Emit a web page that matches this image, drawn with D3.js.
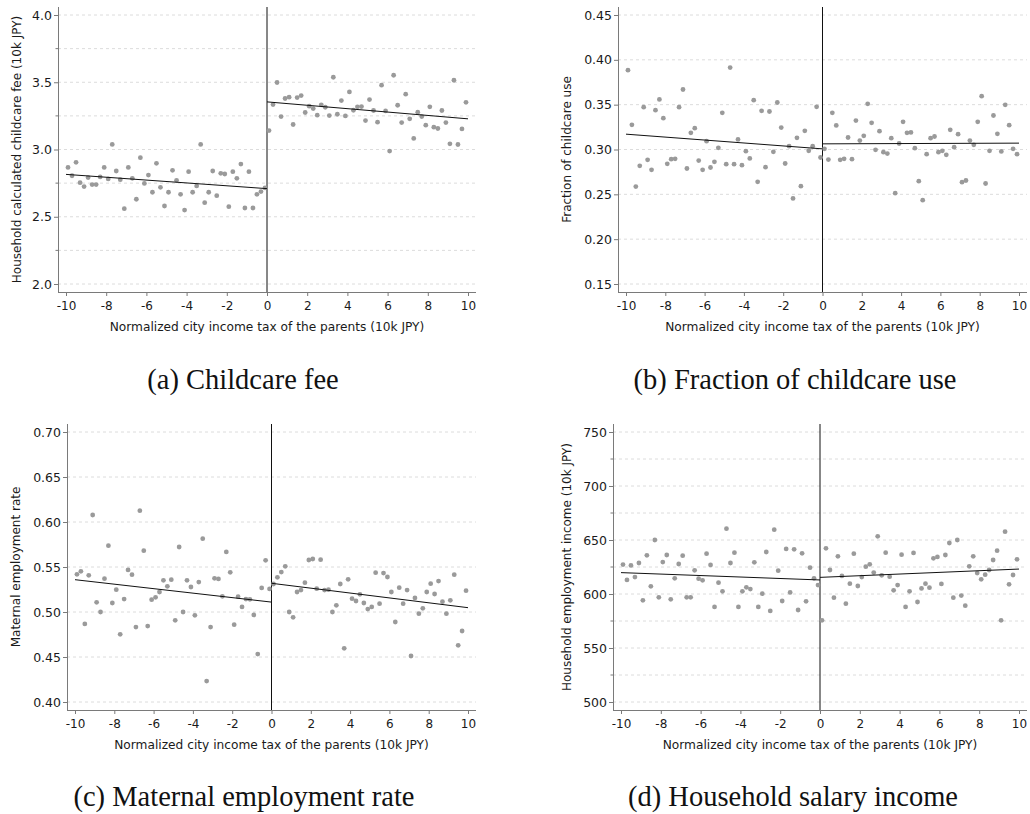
<!DOCTYPE html>
<html>
<head>
<meta charset="utf-8">
<script src="https://cdn.jsdelivr.net/npm/d3@7"></script>
<style>
  html, body { margin: 0; padding: 0; background: #fff; }
  svg { display: block; }
</style>
</head>
<body>
<svg id="chart" width="1030" height="814"></svg>
<script>
// ---------- DATA ----------
const xLeft = [-9.9,-9.7,-9.5,-9.3,-9.1,-8.9,-8.7,-8.5,-8.3,-8.1,-7.9,-7.7,-7.5,-7.3,-7.1,-6.9,-6.7,-6.5,-6.3,-6.1,
  -5.9,-5.7,-5.5,-5.3,-5.1,-4.9,-4.7,-4.5,-4.3,-4.1,-3.9,-3.7,-3.5,-3.3,-3.1,-2.9,-2.7,-2.5,-2.3,-2.1,
  -1.9,-1.7,-1.5,-1.3,-1.1,-0.9,-0.7,-0.5,-0.3,-0.1];
const xRight = [0.1,0.3,0.5,0.7,0.9,1.1,1.3,1.5,1.7,1.9,2.1,2.3,2.5,2.7,2.9,3.1,3.3,3.5,3.7,3.9,
  4.1,4.3,4.5,4.7,4.9,5.1,5.3,5.5,5.7,5.9,6.1,6.3,6.5,6.7,6.9,7.1,7.3,7.5,7.7,7.9,
  8.1,8.3,8.5,8.7,8.9,9.1,9.3,9.5,9.7,9.9];
const xTicks = [-10,-8,-6,-4,-2,0,2,4,6,8,10];

// (a) Childcare fee
const feeLeft = [2.867,2.805,2.905,2.753,2.724,2.791,2.739,2.739,2.796,2.867,
  2.781,3.038,2.840,2.776,2.560,2.867,2.786,2.630,2.939,2.748,
  2.810,2.682,2.897,2.719,2.580,2.682,2.845,2.771,2.667,2.550,
  2.835,2.682,2.729,3.038,2.605,2.682,2.840,2.657,2.823,2.818,
  2.575,2.835,2.786,2.892,2.565,2.835,2.565,2.667,2.687,2.714];
const feeRight = [3.141,3.334,3.498,3.245,3.379,3.389,3.186,3.386,3.401,3.275,
  3.322,3.304,3.255,3.332,3.314,3.252,3.537,3.262,3.364,3.250,
  3.428,3.292,3.317,3.319,3.215,3.371,3.290,3.203,3.478,3.287,
  2.988,3.552,3.329,3.200,3.411,3.228,3.082,3.277,3.245,3.181,
  3.317,3.166,3.156,3.290,3.200,3.042,3.515,3.037,3.153,3.351];
const feeFitLeft = [2.815, 2.709];
const feeFitRight = [3.354, 3.228];
const feeTicks = [2.0,2.5,3.0,3.5,4.0];
const feeMinor = [2.25,2.75,3.25,3.75];

// (b) Fraction of childcare use
const useLeft = [0.3885,0.3275,0.2587,0.2818,0.3472,0.2885,0.2773,0.3439,0.3558,0.3349,
  0.2840,0.2892,0.2896,0.3472,0.3669,0.2788,0.3186,0.3238,0.2877,0.2773,
  0.3093,0.2799,0.2862,0.3019,0.3409,0.2836,0.3914,0.2836,0.3112,0.2825,
  0.2981,0.2900,0.3550,0.2639,0.3431,0.2803,0.3424,0.2974,0.3524,0.3245,
  0.2844,0.3037,0.2454,0.3130,0.2591,0.3208,0.2985,0.3037,0.3476,0.2911];
const useRight = [0.3007,0.2888,0.3409,0.3268,0.2885,0.2896,0.3134,0.2892,0.3323,0.3100,
  0.3152,0.3509,0.3297,0.2996,0.3204,0.2970,0.2955,0.3126,0.2513,0.3067,
  0.3309,0.3186,0.3190,0.3015,0.2647,0.2435,0.2948,0.3126,0.3145,0.2970,
  0.2985,0.2941,0.3219,0.3026,0.3171,0.2636,0.2654,0.3100,0.3052,0.3309,
  0.3595,0.2621,0.2985,0.3379,0.3175,0.2978,0.3498,0.3271,0.3007,0.2948];
const useFitLeft = [0.3171, 0.3007];
const useFitRight = [0.3063, 0.3071];
const useTicks = [0.15,0.20,0.25,0.30,0.35,0.40,0.45];

// (c) Maternal employment rate
const empLeft = [0.5419,0.5452,0.4867,0.5407,0.6078,0.5107,0.5000,0.5370,0.5737,0.5100,
  0.5248,0.4752,0.5144,0.5467,0.5415,0.4833,0.6126,0.5681,0.4844,0.5137,
  0.5163,0.5222,0.5352,0.5285,0.5359,0.4907,0.5722,0.5000,0.5352,0.5278,
  0.4963,0.5333,0.5815,0.4233,0.4833,0.5374,0.5367,0.5174,0.5667,0.5441,
  0.4859,0.5170,0.5056,0.5144,0.5141,0.4967,0.4533,0.5267,0.5574,0.5256];
const empRight = [0.5311,0.5385,0.5444,0.5507,0.5000,0.4941,0.5222,0.5244,0.5326,0.5578,
  0.5589,0.5259,0.5581,0.5244,0.5248,0.5000,0.5074,0.5311,0.4596,0.5363,
  0.5148,0.5122,0.5196,0.5100,0.5033,0.5056,0.5437,0.5093,0.5433,0.5389,
  0.5222,0.4889,0.5270,0.5093,0.5244,0.4511,0.5156,0.4981,0.5041,0.5222,
  0.5315,0.5200,0.5344,0.5115,0.4981,0.5130,0.5415,0.4630,0.4789,0.5237];
const empFitLeft = [0.5359, 0.5110];
const empFitRight = [0.5319, 0.5048];
const empTicks = [0.40,0.45,0.50,0.55,0.60,0.65,0.70];

// (d) Household salary income
const incLeft = [627.2,613.0,626.5,615.7,628.7,594.1,635.8,607.1,650.0,596.9,
  629.6,636.1,595.1,614.5,627.8,635.5,596.9,596.9,621.9,614.2,
  612.7,637.3,626.9,588.0,610.5,602.5,660.5,628.7,638.3,588.0,
  602.5,606.2,604.6,629.3,588.0,600.3,638.9,584.3,659.6,621.6,
  593.5,641.7,601.5,641.4,585.2,637.7,593.2,624.4,614.5,608.3];
const incRight = [575.6,642.3,622.2,596.6,634.9,616.7,591.0,609.6,637.3,607.4,
  615.7,625.3,627.5,619.8,653.4,617.3,638.3,616.0,603.4,608.3,
  636.4,588.0,602.5,638.0,592.6,605.2,609.6,605.9,633.0,634.3,
  609.3,636.1,647.2,596.6,650.0,598.5,589.2,625.6,634.9,619.4,
  613.6,617.9,622.2,631.5,640.1,575.6,657.7,609.0,617.6,632.1];
const incFitLeft = [619.8, 613.0];
const incFitRight = [615.4, 623.1];
const incTicks = [500,550,600,650,700,750];
const incMinor = [525,575,625,675,725];

const xTitle = "Normalized city income tax of the parents (10k JPY)";

// ---------- DRAW ----------
const svg = d3.select("#chart");
const FONT = "'DejaVu Sans', Verdana, sans-serif";

function drawPanel(p) {
  const g = svg.append("g");
  const x = d3.scaleLinear().domain([-10, 10]).range([p.left + 8, p.right - 8]);
  const y = d3.scaleLinear().domain(p.yDomain).range([p.bottom - 8, p.top + 8]);

  // grid lines
  const gridVals = p.yTicks.concat(p.yMinor || []);
  g.selectAll("line.grid").data(gridVals).enter().append("line")
    .attr("x1", p.left).attr("x2", p.right)
    .attr("y1", d => y(d)).attr("y2", d => y(d))
    .attr("stroke", "#dcdcdc").attr("stroke-width", 1)
    .attr("stroke-dasharray", "3,3");

  // y axis
  const yAxis = d3.axisLeft(y).tickValues(p.yTicks).tickFormat(d3.format(p.yFmt)).tickSize(4).tickPadding(2);
  const ya = g.append("g").attr("transform", `translate(${p.left},0)`).call(yAxis);
  ya.select(".domain").attr("d", `M0.5,${p.top}V${p.bottom}`).attr("stroke", "#7a7a7a");
  ya.selectAll(".tick line").attr("stroke", "#7a7a7a");
  ya.selectAll(".tick text").attr("font-family", FONT).attr("font-size", 12.5).attr("fill", "#1a1a1a");
  if (p.yMinor) {
    g.selectAll("line.minor").data(p.yMinor).enter().append("line")
      .attr("x1", p.left - 2.5).attr("x2", p.left)
      .attr("y1", d => y(d)).attr("y2", d => y(d))
      .attr("stroke", "#7a7a7a");
  }

  // x axis
  const xAxis = d3.axisBottom(x).tickValues(xTicks).tickFormat(d3.format("d")).tickSize(4).tickPadding(5);
  const xa = g.append("g").attr("transform", `translate(0,${p.bottom})`).call(xAxis);
  xa.select(".domain").attr("d", `M${p.left},0.5H${p.right}`).attr("stroke", "#7a7a7a");
  xa.selectAll(".tick line").attr("stroke", "#7a7a7a");
  xa.selectAll(".tick text").attr("font-family", FONT).attr("font-size", 12).attr("fill", "#1a1a1a")
    .text(d => d < 0 ? "-" + Math.abs(d) : String(d));

  // cutoff line
  g.append("line").attr("x1", x(0)).attr("x2", x(0))
    .attr("y1", p.top).attr("y2", p.bottom)
    .attr("stroke", "#111").attr("stroke-width", 1);

  // points
  const pts = p.xL.map((d, i) => [d, p.vL[i]]).concat(p.xR.map((d, i) => [d, p.vR[i]]));
  g.selectAll("circle").data(pts).enter().append("circle")
    .attr("cx", d => x(d[0])).attr("cy", d => y(d[1])).attr("r", 2.4)
    .attr("fill", "#9a9a9a");

  // fit lines
  const line = d3.line().x(d => x(d[0])).y(d => y(d[1]));
  g.append("path").datum([[-10, p.fitL[0]], [0, p.fitL[1]]]).attr("d", line)
    .attr("fill", "none").attr("stroke", "#111").attr("stroke-width", 1);
  g.append("path").datum([[0, p.fitR[0]], [10, p.fitR[1]]]).attr("d", line)
    .attr("fill", "none").attr("stroke", "#111").attr("stroke-width", 1);

  // axis titles
  g.append("text").attr("x", (p.left + p.right) / 2).attr("y", p.bottom + 39)
    .attr("text-anchor", "middle").attr("font-family", FONT).attr("font-size", 12.2)
    .attr("fill", "#1a1a1a").text(xTitle);
  g.append("text")
    .attr("transform", `translate(${p.yTitleX},${(p.top + p.bottom) / 2}) rotate(-90)`)
    .attr("text-anchor", "middle").attr("font-family", FONT).attr("font-size", 12)
    .attr("dy", "0.35em").attr("fill", "#1a1a1a").text(p.yTitle);

  // caption
  svg.append("text").attr("x", p.capX).attr("y", p.capY)
    .attr("text-anchor", "middle").attr("font-family", "'Liberation Serif', 'Times New Roman', serif")
    .attr("font-size", 28.5).attr("fill", "#111").text(p.caption);
}

drawPanel({left: 58, right: 476, top: 7, bottom: 292, yDomain: [2.0, 4.0], yTicks: feeTicks, yMinor: feeMinor,
  yFmt: ".1f", xL: xLeft, vL: feeLeft, xR: xRight, vR: feeRight, fitL: feeFitLeft, fitR: feeFitRight,
  yTitle: "Household calculated childcare fee (10k JPY)", yTitleX: 16.5, caption: "(a) Childcare fee", capX: 243, capY: 389});
drawPanel({left: 618, right: 1027, top: 7, bottom: 292, yDomain: [0.15, 0.45], yTicks: useTicks,
  yFmt: ".2f", xL: xLeft, vL: useLeft, xR: xRight, vR: useRight, fitL: useFitLeft, fitR: useFitRight,
  yTitle: "Fraction of childcare use", yTitleX: 567, caption: "(b) Fraction of childcare use", capX: 795, capY: 389});
drawPanel({left: 67, right: 476, top: 424, bottom: 710, yDomain: [0.40, 0.70], yTicks: empTicks,
  yFmt: ".2f", xL: xLeft, vL: empLeft, xR: xRight, vR: empRight, fitL: empFitLeft, fitR: empFitRight,
  yTitle: "Maternal employment rate", yTitleX: 16, caption: "(c) Maternal employment rate", capX: 244, capY: 806});
drawPanel({left: 613, right: 1027, top: 424, bottom: 710, yDomain: [500, 750], yTicks: incTicks, yMinor: incMinor,
  yFmt: "d", xL: xLeft, vL: incLeft, xR: xRight, vR: incRight, fitL: incFitLeft, fitR: incFitRight,
  yTitle: "Household employment income (10k JPY)", yTitleX: 567, caption: "(d) Household salary income", capX: 793, capY: 806});
</script>
</body>
</html>
